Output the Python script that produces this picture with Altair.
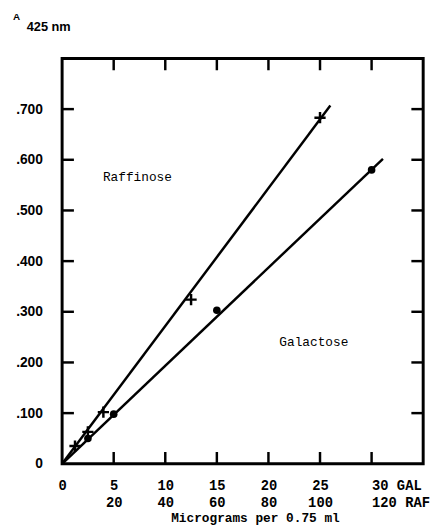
import altair as alt
import pandas as pd

# Raffinose (micrograms of raffinose) vs absorbance at 425 nm
raf_ug = [5, 10, 16, 50, 100]
raf_abs = [0.035, 0.063, 0.102, 0.324, 0.683]
# Galactose (micrograms of galactose)
gal_ug = [2.5, 5, 15, 30]
gal_abs = [0.050, 0.098, 0.303, 0.580]
# fitted lines
raf_line_ug = [0, 104]
raf_line_abs = [0, 0.707]
gal_line_ug = [0, 31.1]
gal_line_abs = [0, 0.602]
# tick values
x_ticks = [0, 5, 10, 15, 20, 25, 30]
y_ticks = [0, 0.1, 0.2, 0.3, 0.4, 0.5, 0.6, 0.7]
# in-plot labels (galactose-scale x)
label_names = ["Raffinose", "Galactose"]
label_x = [7.3, 24.4]
label_y = [0.565, 0.24]
title_main = "A"
title_sub = "425 nm"
x_title = "Micrograms per 0.75 ml"

W, H = 367, 412
RAF_PER_GAL = 4

raf_pts = pd.DataFrame({"x": [v / RAF_PER_GAL for v in raf_ug], "y": raf_abs})
gal_pts = pd.DataFrame({"x": gal_ug, "y": gal_abs})
raf_line = pd.DataFrame({"x": [v / RAF_PER_GAL for v in raf_line_ug], "y": raf_line_abs})
gal_line = pd.DataFrame({"x": gal_line_ug, "y": gal_line_abs})
xt = pd.DataFrame({"x": x_ticks[1:]})
yt = pd.DataFrame({"y": y_ticks[1:]})
labels = pd.DataFrame({"name": label_names, "x": label_x, "y": label_y})

xs = alt.Scale(domain=[0, 35], nice=False, zero=True)
ys = alt.Scale(domain=[0, 0.8], nice=False, zero=True)

x_axis = alt.Axis(
    values=x_ticks,
    ticks=False, domain=False, grid=False,
    labelExpr=("datum.value == 0 ? '0' : datum.value == 30 ? ['30 GAL', '120 RAF'] : "
               "[toString(datum.value), toString(datum.value * 4)]"),
    labelFont="Liberation Mono", labelFontWeight="bold", labelFontSize=14,
    labelColor="black", labelPadding=15, labelLineHeight=17,
    labelBaseline="top",
    labelAlign={"condition": {"test": "datum.value == 30", "value": "left"}, "value": "center"},
    labelOverlap=False, labelFlush=False, labelBound=False,
    title=x_title, titleFont="Liberation Mono", titleFontWeight="bold", titleFontSize=13,
    titleColor="black", titleX=196, titleY=55, titleBaseline="middle", titleAlign="center",
)
y_axis = alt.Axis(
    values=y_ticks,
    ticks=False, domain=False, grid=False,
    labelExpr="datum.value == 0 ? '0' : replace(format(datum.value, '.3f'), '0.', '.')",
    labelFont="Liberation Sans", labelFontWeight="bold", labelFontSize=14,
    labelColor="black", labelPadding=20, title=None,
)

X = alt.X("x:Q", scale=xs, axis=x_axis)
Y = alt.Y("y:Q", scale=ys, axis=y_axis)

lines = alt.layer(
    alt.Chart(raf_line).mark_line(color="black", strokeWidth=2.5).encode(x=X, y=Y),
    alt.Chart(gal_line).mark_line(color="black", strokeWidth=2.5).encode(x=X, y=Y),
)

plus = alt.Chart(raf_pts).mark_point(
    shape="M-1,0L1,0M0,-1L0,1", filled=False, color="black", strokeWidth=2.5, size=130, opacity=1
).encode(x=X, y=Y)
dots = alt.Chart(gal_pts).mark_point(
    shape="circle", filled=True, color="black", size=60, opacity=1
).encode(x=X, y=Y)

texts = alt.Chart(labels).mark_text(
    font="Liberation Mono", fontSize=13, color="black", align="center", baseline="middle"
).encode(x=X, y=Y, text="name:N")

tick_len = 12
left_ticks = alt.Chart(yt).mark_rule(color="black", strokeWidth=2.5).encode(
    y=Y, x=alt.value(0), x2=alt.value(tick_len))
right_ticks = alt.Chart(yt).mark_rule(color="black", strokeWidth=2.5).encode(
    y=Y, x=alt.value(W - tick_len), x2=alt.value(W))
top_ticks = alt.Chart(xt).mark_rule(color="black", strokeWidth=2.5).encode(
    x=X, y=alt.value(0), y2=alt.value(tick_len))
bottom_ticks = alt.Chart(xt).mark_rule(color="black", strokeWidth=2.5).encode(
    x=X, y=alt.value(H - tick_len), y2=alt.value(H))

t1 = alt.Chart(pd.DataFrame({"t": [title_main]})).mark_text(
    font="Liberation Sans", fontWeight="bold", fontSize=10, color="black",
    align="left", baseline="middle").encode(x=alt.value(-50), y=alt.value(-42), text="t:N")
t2 = alt.Chart(pd.DataFrame({"t": [title_sub]})).mark_text(
    font="Liberation Sans", fontWeight="bold", fontSize=13, color="black",
    align="left", baseline="middle").encode(x=alt.value(-36), y=alt.value(-32), text="t:N")

chart = alt.layer(
    lines, plus, dots, texts, left_ticks, right_ticks, top_ticks, bottom_ticks, t1, t2
).properties(
    width=W, height=H,
    padding={"left": 55, "top": 47, "right": 11, "bottom": 62},
    autosize=alt.AutoSizeParams(type="none"),
    background="white",
).configure_view(
    stroke="black", strokeWidth=3
)

chart.save("out.html", embed_options={"renderer": "svg", "actions": False})
